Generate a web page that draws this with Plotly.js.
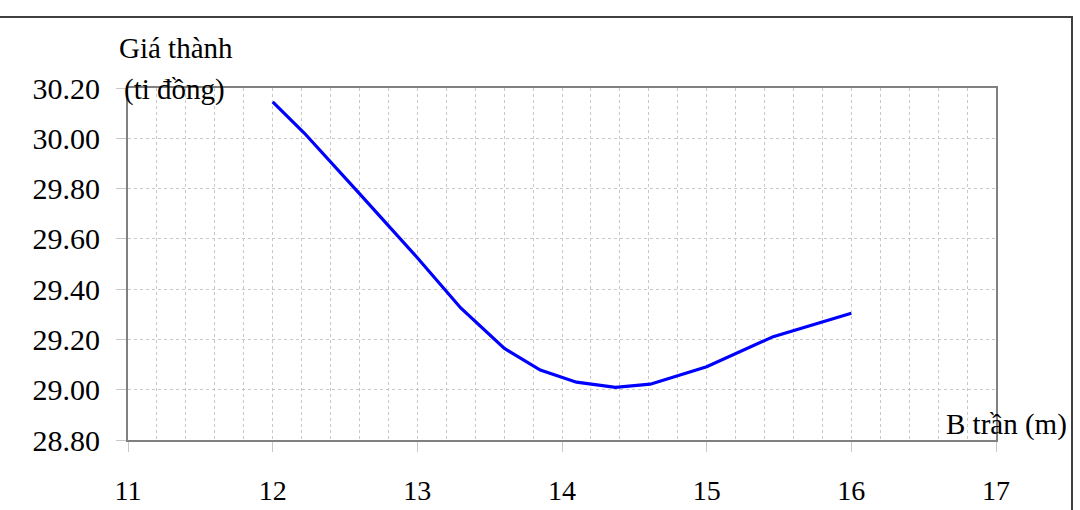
<!DOCTYPE html>
<html><head><meta charset="utf-8">
<script src="https://cdn.plot.ly/plotly-3.0.1.min.js"></script>
<style>
html,body{margin:0;padding:0;background:#fff;}
#wrap{position:relative;width:1080px;height:510px;}
#chart{width:1080px;height:510px;}
#frame{position:absolute;left:0;top:16px;width:1071px;height:494px;border-top:2px solid #404040;border-right:2px solid #404040;pointer-events:none;}
</style></head>
<body>
<div id="wrap"><div id="chart"></div><div id="frame"></div></div>
<script>
const bWidth = [12.0, 12.22, 12.6, 13.0, 13.3, 13.6, 13.85, 14.1, 14.37, 14.61, 15.0, 15.46, 16.0];
const cost = [30.145, 30.02, 29.78, 29.525, 29.325, 29.165, 29.078, 29.03, 29.009, 29.022, 29.091, 29.211, 29.304];
const yTicks = [28.8, 29.0, 29.2, 29.4, 29.6, 29.8, 30.0, 30.2];
const xTicks = [11, 12, 13, 14, 15, 16, 17];

const FAM = '"Liberation Serif", "DejaVu Serif", serif';
const grid = '#c8c8c8';

Plotly.newPlot('chart', [{
  x: bWidth, y: cost, type: 'scatter', mode: 'lines',
  line: {color: '#0000ff', width: 3.2}, hoverinfo: 'skip'
}], {
  width: 1080, height: 510,
  margin: {l: 128, r: 84, t: 88, b: 70},
  paper_bgcolor: '#fff', plot_bgcolor: '#fff',
  showlegend: false,
  font: {family: FAM, size: 28, color: '#000'},
  xaxis: {
    range: [11, 17], tickvals: xTicks, ticktext: xTicks.map(String),
    showline: true, linecolor: '#808080', linewidth: 2, mirror: true,
    showgrid: true, gridcolor: grid, griddash: 'dot', gridwidth: 1,
    ticks: 'outside', ticklen: 10, tickcolor: grid, tickwidth: 1,
    ticklabelstandoff: 14, zeroline: false,
    minor: {dtick: 0.2, showgrid: true, gridcolor: grid, griddash: 'dot', gridwidth: 1, ticks: ''},
    tickfont: {family: FAM, size: 28, color: '#000'}
  },
  yaxis: {
    range: [28.8, 30.2], tickvals: yTicks, ticktext: yTicks.map(v => v.toFixed(2)),
    showline: true, linecolor: '#808080', linewidth: 2, mirror: true,
    showgrid: true, gridcolor: grid, griddash: 'dot', gridwidth: 1,
    ticks: 'outside', ticklen: 10, tickcolor: grid, tickwidth: 1,
    ticklabelstandoff: 10, zeroline: false,
    tickfont: {family: FAM, size: 30, color: '#000'}
  },
  annotations: [
    {text: 'Giá thành', xref: 'paper', yref: 'paper', x: -0.013, y: 1.115, xanchor: 'left', yanchor: 'middle', showarrow: false, font: {family: FAM, size: 29, color: '#000'}},
    {text: '(ti đồng)', xref: 'paper', yref: 'paper', x: -0.007, y: 0.995, xanchor: 'left', yanchor: 'middle', showarrow: false, font: {family: FAM, size: 29, color: '#000'}},
    {text: 'B trần (m)', xref: 'paper', yref: 'paper', x: 1.0845, y: 0.043, xanchor: 'right', yanchor: 'middle', showarrow: false, font: {family: FAM, size: 29, color: '#000'}}
  ]
}, {displayModeBar: false, staticPlot: true});
</script>
</body></html>
